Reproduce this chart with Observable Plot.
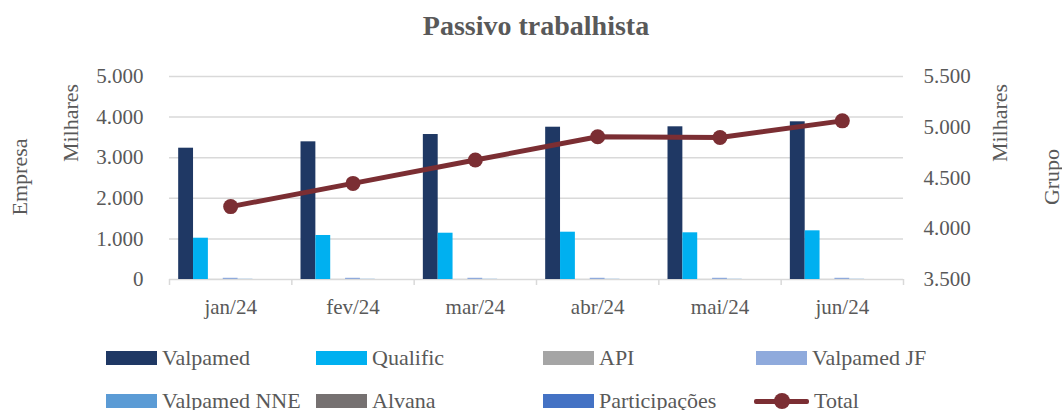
<!DOCTYPE html>
<html><head><meta charset="utf-8">
<script src="https://cdn.jsdelivr.net/npm/d3@7"></script>
<script src="https://cdn.jsdelivr.net/npm/@observablehq/plot@0.6"></script>
<style>
body{margin:0;background:#fff;font-family:"Liberation Serif",serif;color:#595959}
#wrap{position:relative;width:1062px;height:410px;overflow:hidden}
#title{position:absolute;top:10px;left:10px;width:1052px;text-align:center;font-size:28px;font-weight:bold;color:#595959}
#chart{position:absolute;top:55px;left:0}
.lg{position:absolute;font-size:22px;line-height:22px;white-space:nowrap;color:#595959}
.sw{position:absolute;width:51px;height:14px}
.ax{position:absolute;font-size:22px;line-height:22px;white-space:nowrap;color:#595959;transform:translate(-50%,-50%) rotate(-90deg)}
</style></head>
<body>
<div id="wrap">
<div id="title">Passivo trabalhista</div>
<div id="chart"></div>
<div id="axlabels"></div>
<div id="legend"></div>
</div>
<script>
const months = ["jan/24","fev/24","mar/24","abr/24","mai/24","jun/24"];
const seriesNames = ["Valpamed","Qualific","API","Valpamed JF","Valpamed NNE","Alvana","Participações"];
const valpamed = [3234,3391,3571,3751,3761,3884];
const qualific = [1017,1084,1140,1165,1150,1199];
const api = [3,3,3,3,3,3];
const valpamedJF = [30,30,30,30,30,30];
const valpamedNNE = [5,5,5,5,5,5];
const alvana = [0,0,0,0,0,0];
const participacoes = [0,0,0,0,0,0];
const total = [4218,4447,4677,4906,4899,5063];
const totalName = "Total";
const colors = ["#1F3864","#00B0F0","#A5A5A5","#8FAADC","#5B9BD5","#767171","#4472C4"];
const totalColor = "#7B2E33";
const leftTicks = [0,1000,2000,3000,4000,5000];
const rightTicks = [3500,4000,4500,5000,5500];
const axisLabels = ["Empresa","Milhares","Milhares","Grupo"];

const seriesValues = [valpamed,qualific,api,valpamedJF,valpamedNNE,alvana,participacoes];
const rows = [];
months.forEach((m,i)=>seriesNames.forEach((s,k)=>rows.push({i,k,series:s,value:seriesValues[k][i]})));
const totalRows = total.map((v,i)=>({i,v}));

const GAP = 0.075, BW = (1-2*GAP)/7;
const R0 = rightTicks[0], R1 = rightTicks[rightTicks.length-1];
const L1 = leftTicks[leftTicks.length-1];
const toLeft = v => (v-R0)*L1/(R1-R0);
const fromLeft = v => v*(R1-R0)/L1 + R0;
const fmt = d3.formatLocale({decimal:",",thousands:".",grouping:[3],currency:["R$",""]}).format(",.0f");
const txt = "#595959";

const chart = Plot.plot({
  width:1062, height:270,
  marginLeft:169, marginRight:159, marginTop:21, marginBottom:46,
  style:{fontFamily:"Liberation Serif", fontSize:"21px", color:txt, background:"transparent"},
  x:{type:"linear", domain:[-0.5, months.length-0.5], label:null},
  y:{domain:[0,L1], label:null},
  color:{domain:seriesNames, range:colors},
  marks:[
    Plot.ruleY(leftTicks,{stroke:"#d9d9d9", strokeWidth:1.5}),
    Plot.rectY(rows,{x1:d=>d.i-0.5+GAP+d.k*BW, x2:d=>d.i-0.5+GAP+(d.k+1)*BW, y:"value", fill:"series"}),
    Plot.axisX(months.map((m,i)=>i),{tickSize:0, tickPadding:20, tickFormat:i=>months[i], label:null, fontSize:21}),
    Plot.axisX(d3.range(months.length+1).map(i=>i-0.5),{tickSize:6, tickFormat:()=>"", stroke:"#d9d9d9", strokeWidth:1.5, label:null}),
    Plot.axisY(leftTicks,{anchor:"left", tickSize:0, tickPadding:26, tickFormat:fmt, label:null, fontSize:21}),
    Plot.axisY(rightTicks.map(toLeft),{anchor:"right", tickSize:0, tickPadding:20, tickFormat:v=>fmt(fromLeft(v)), label:null, fontSize:21}),
    Plot.lineY(totalRows,{x:"i", y:d=>toLeft(d.v), stroke:totalColor, strokeWidth:5}),
    Plot.dot(totalRows,{x:"i", y:d=>toLeft(d.v), r:7.5, fill:totalColor})
  ]
});
document.getElementById("chart").appendChild(chart);

// rotated axis titles (HTML, beside the SVG frame)
const axPos = [[20,177],[71,123],[1000,123],[1052,177]];
const axDiv = document.getElementById("axlabels");
axisLabels.forEach((s,j)=>{
  const d = document.createElement("div");
  d.className = "ax";
  d.textContent = s;
  d.style.left = axPos[j][0]+"px";
  d.style.top = axPos[j][1]+"px";
  axDiv.appendChild(d);
});

// legend (HTML, below the SVG)
const legendX = [106,316,543,756,106,316,543,754];
const legendY = [358,358,358,358,401,401,401,401];
const lg = document.getElementById("legend");
const items = seriesNames.map((s,k)=>({name:s,color:colors[k],line:false})).concat([{name:totalName,color:totalColor,line:true}]);
items.forEach((it,j)=>{
  const x = legendX[j], y = legendY[j];
  if(it.line){
    const ln = document.createElement("div");
    ln.style.cssText = `position:absolute;left:${x}px;top:${y-2.5}px;width:55px;height:5px;background:${it.color};border-radius:2px`;
    lg.appendChild(ln);
    const c = document.createElement("div");
    c.style.cssText = `position:absolute;left:${x+27.5-8}px;top:${y-8}px;width:16px;height:16px;border-radius:50%;background:${it.color}`;
    lg.appendChild(c);
  } else {
    const sw = document.createElement("div");
    sw.className = "sw";
    sw.style.left = x+"px"; sw.style.top = (y-7)+"px"; sw.style.background = it.color;
    lg.appendChild(sw);
  }
  const t = document.createElement("div");
  t.className = "lg";
  t.textContent = it.name;
  t.style.left = (x + (it.line?60:56))+"px";
  t.style.top = (y-11)+"px";
  lg.appendChild(t);
});
</script>
</body></html>
